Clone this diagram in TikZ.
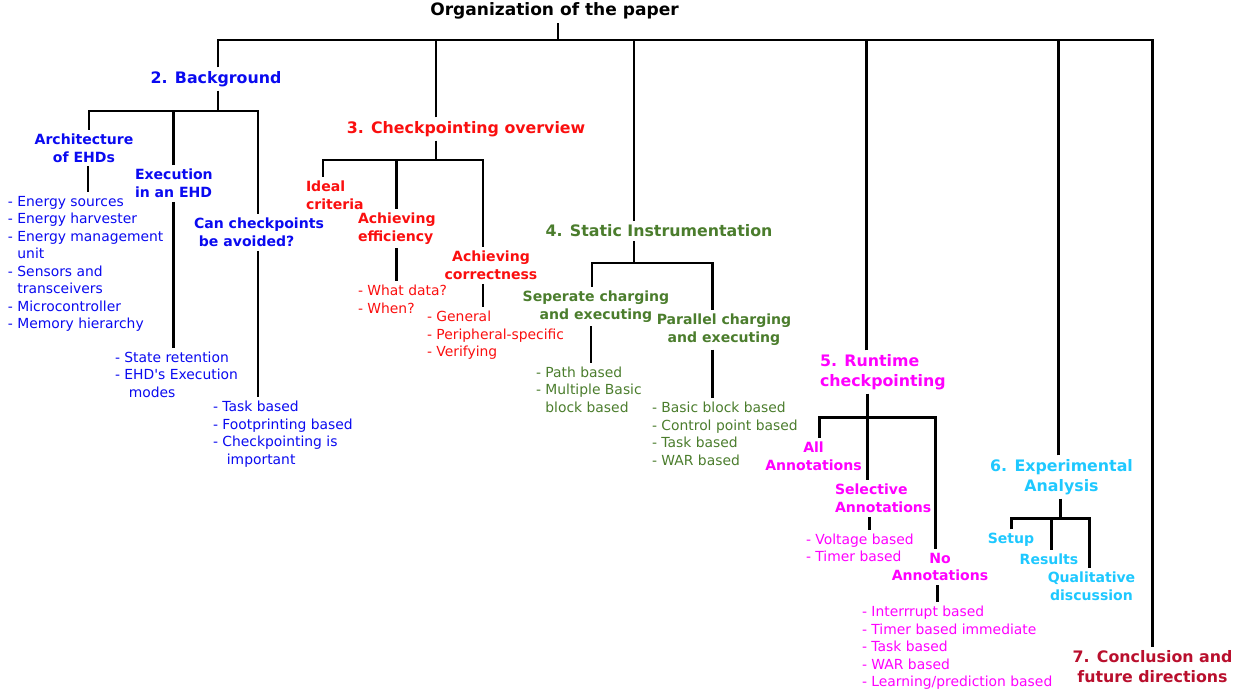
\documentclass[tikz,border=0pt]{standalone}
\usepackage{fontspec}
\setmainfont{DejaVu Sans}
\usetikzlibrary{positioning, calc}

\definecolor{bgblue}{RGB}{10,10,240}
\definecolor{ckored}{RGB}{250,15,15}
\definecolor{sigreen}{RGB}{75,125,45}
\definecolor{rtpink}{RGB}{255,0,255}
\definecolor{eacyan}{RGB}{30,200,255}
\definecolor{cfred}{RGB}{185,15,45}
\newlength\pxu
\setlength\pxu{0.02cm}

\begin{document}
\begin{tikzpicture}[x=0.02cm, y=-0.02cm,
    every node/.style={inner sep=0pt, outer sep=0.08cm},
    toptitle/.style={font={\fontsize{9.7}{11.6}\selectfont\bfseries}},
    head/.style={font={\fontsize{9}{11.4}\selectfont\bfseries}, align=left},
    sub/.style={font={\fontsize{8}{10.1}\selectfont\bfseries}, align=center},
    items/.style={font={\fontsize{7.9}{9.96}\selectfont}, align=left, anchor=west},
    link/.style={line width=1.7pt}]
    \useasboundingbox (0,0) rectangle (1248,697);
    % Top level
    \node[toptitle] (title) at (554.5,11) {Organization of the paper};
    \node[head, bgblue] (bg) at (216,79) {2. Background};
    \node[head, ckored] (cko) at (466,129) {3. Checkpointing overview};
    \node[head, sigreen] (si) at (659,231) {4. Static Instrumentation};
    \node[head, rtpink, anchor=west] (rt) at (816,372) {5. Runtime\\checkpointing};
    \node[head, eacyan, align=center] (ea) at (1061.5,477) {6. Experimental\\Analysis};
    \node[head, cfred, align=center] (cf) at (1152.5,667) {7. Conclusion and\\future directions};
    % Background
    \node[sub, bgblue] (arch) at (84,148) {Architecture\\of EHDs};
    \node[sub, bgblue, align=left, anchor=west] (exe) at (131,183.5) {Execution\\in an EHD};
    \node[sub, bgblue, align=left, anchor=west] (can) at (190,232.5) {Can checkpoints\\\hspace*{0.35em}be avoided?};
    \node[items, bgblue] (archl) at (4,264) {- Energy sources\\- Energy harvester\\- Energy management\\\phantom{- }unit\\- Sensors and\\\phantom{- }transceivers\\- Microcontroller\\- Memory hierarchy};
    \node[items, bgblue] (exel) at (111,374.5) {- State retention\\- EHD\textquotesingle s Execution\\\hspace*{1em}modes};
    \node[items, bgblue] (canl) at (209,434) {- Task based\\- Footprinting based\\- Checkpointing is\\\hspace*{1em}important};
    % Checkpointing overview
    \node[sub, ckored, align=left, anchor=west] (ideal) at (302,195) {Ideal\\criteria};
    \node[sub, ckored, align=left, anchor=west] (eff) at (354,228.5) {Achieving\\efficiency};
    \node[sub, ckored] (cor) at (491,265.5) {Achieving\\correctness};
    \node[items, ckored] (effl) at (354,299.5) {- What data?\\- When?};
    \node[items, ckored] (corl) at (423,335.5) {- General\\- Peripheral-specific\\- Verifying};
    % Static instrumentation
    \node[sub, sigreen] (sep) at (596,306.5) {Seperate charging\\and executing};
    \node[sub, sigreen] (par) at (724,330) {Parallel charging\\and executing};
    \node[items, sigreen] (sepl) at (532,389.5) {- Path based\\- Multiple Basic\\\phantom{- }block based};
    \node[items, sigreen] (parl) at (648,434) {- Basic block based\\- Control point based\\- Task based\\- WAR based};
    % Runtime checkpointing
    \node[sub, rtpink] (all) at (813.5,456) {All\\Annotations};
    \node[sub, rtpink, align=left, anchor=west] (sel) at (831,498.5) {Selective\\Annotations};
    \node[sub, rtpink] (no) at (940,567) {No\\Annotations};
    \node[items, rtpink] (sell) at (802,548) {- Voltage based\\- Timer based};
    \node[items, rtpink] (nol) at (858,648) {- Interrrupt based\\- Timer based immediate\\- Task based\\- WAR based\\- Learning/prediction based};
    % Experimental analysis
    \node[sub, eacyan] (setup) at (1011,540) {Setup};
    \node[sub, eacyan] (res) at (1049,559) {Results};
    \node[sub, eacyan] (qual) at (1091.5,586) {Qualitative\\discussion};
    % Junctions
    \coordinate (mainbar) at (558,40);
    \coordinate (bgbar) at (218,111);
    \coordinate (ckobar) at (436,160);
    \coordinate (sibar) at (634,263);
    \coordinate (rtbar) at (867,417);
    \coordinate (eabar) at (1060,518);
    % Main tree
    \draw[link] (title.south -| mainbar) -- (mainbar);
    \draw[link] (bgbar |- bg.north) |- (mainbar) -| (cf.north);
    \draw[link] (ckobar |- cko.north) -- (ckobar |- mainbar);
    \draw[link] (sibar |- si.north) -- (sibar |- mainbar);
    \draw[link] ([xshift=50\pxu]rt.north west) -- ([xshift=50\pxu]rt.north west |- mainbar);
    \draw[link] ([xshift=-3\pxu]ea.north) -- ([xshift=-3\pxu]ea.north |- mainbar);
    % Background
    \draw[link] (bg.south -| bgbar) -- (bgbar);
    \draw[link] ([xshift=5\pxu]arch.north) |- (bgbar) -| ([xshift=68\pxu]can.north west);
    \draw[link] (exe.north) -- (exe.north |- bgbar);
    \draw[link] ([xshift=4\pxu]arch.south) -- ([xshift=4\pxu]arch.south |- archl.north);
    \draw[link] (exe.south) -- (exe.south |- exel.north);
    \draw[link] ([xshift=68\pxu]can.south west) -- ([xshift=68\pxu]can.south west |- canl.north);
    % Checkpointing overview
    \draw[link] (cko.south -| ckobar) -- (ckobar);
    \draw[link] ([xshift=21\pxu]ideal.north west) |- (ckobar) -| ([xshift=-8\pxu]cor.north);
    \draw[link] (eff.north) -- (eff.north |- ckobar);
    \draw[link] (eff.south) -- (eff.south |- effl.north);
    \draw[link] ([xshift=-8\pxu]cor.south) -- ([xshift=-8\pxu]cor.south |- corl.north);
    % Static instrumentation
    \draw[link] (si.south -| sibar) -- (sibar);
    \draw[link] ([xshift=-4\pxu]sep.north) |- (sibar) -| ([xshift=-12\pxu]par.north);
    \draw[link] ([xshift=-5\pxu]sep.south) -- ([xshift=-5\pxu]sep.south |- sepl.north);
    \draw[link] ([xshift=-12\pxu]par.south) -- ([xshift=-12\pxu]par.south |- parl.north);
    % Runtime checkpointing
    \draw[link] (rt.south -| rtbar) -- (sel.north -| rtbar);
    \draw[link] ([xshift=6\pxu]all.north) |- (rtbar) -| ([xshift=-5\pxu]no.north);
    \draw[link] ([xshift=38\pxu]sel.south west) -- ([xshift=38\pxu]sel.south west |- sell.north);
    \draw[link] ([xshift=-3\pxu]no.south) -- ([xshift=-3\pxu]no.south |- nol.north);
    % Experimental analysis
    \draw[link] (ea.south -| eabar) -- (eabar);
    \draw[link] (setup.north) |- (eabar) -| ([xshift=-2.5\pxu]qual.north);
    \draw[link] ([xshift=2\pxu]res.north) -- ([xshift=2\pxu]res.north |- eabar);
\end{tikzpicture}
\end{document}
